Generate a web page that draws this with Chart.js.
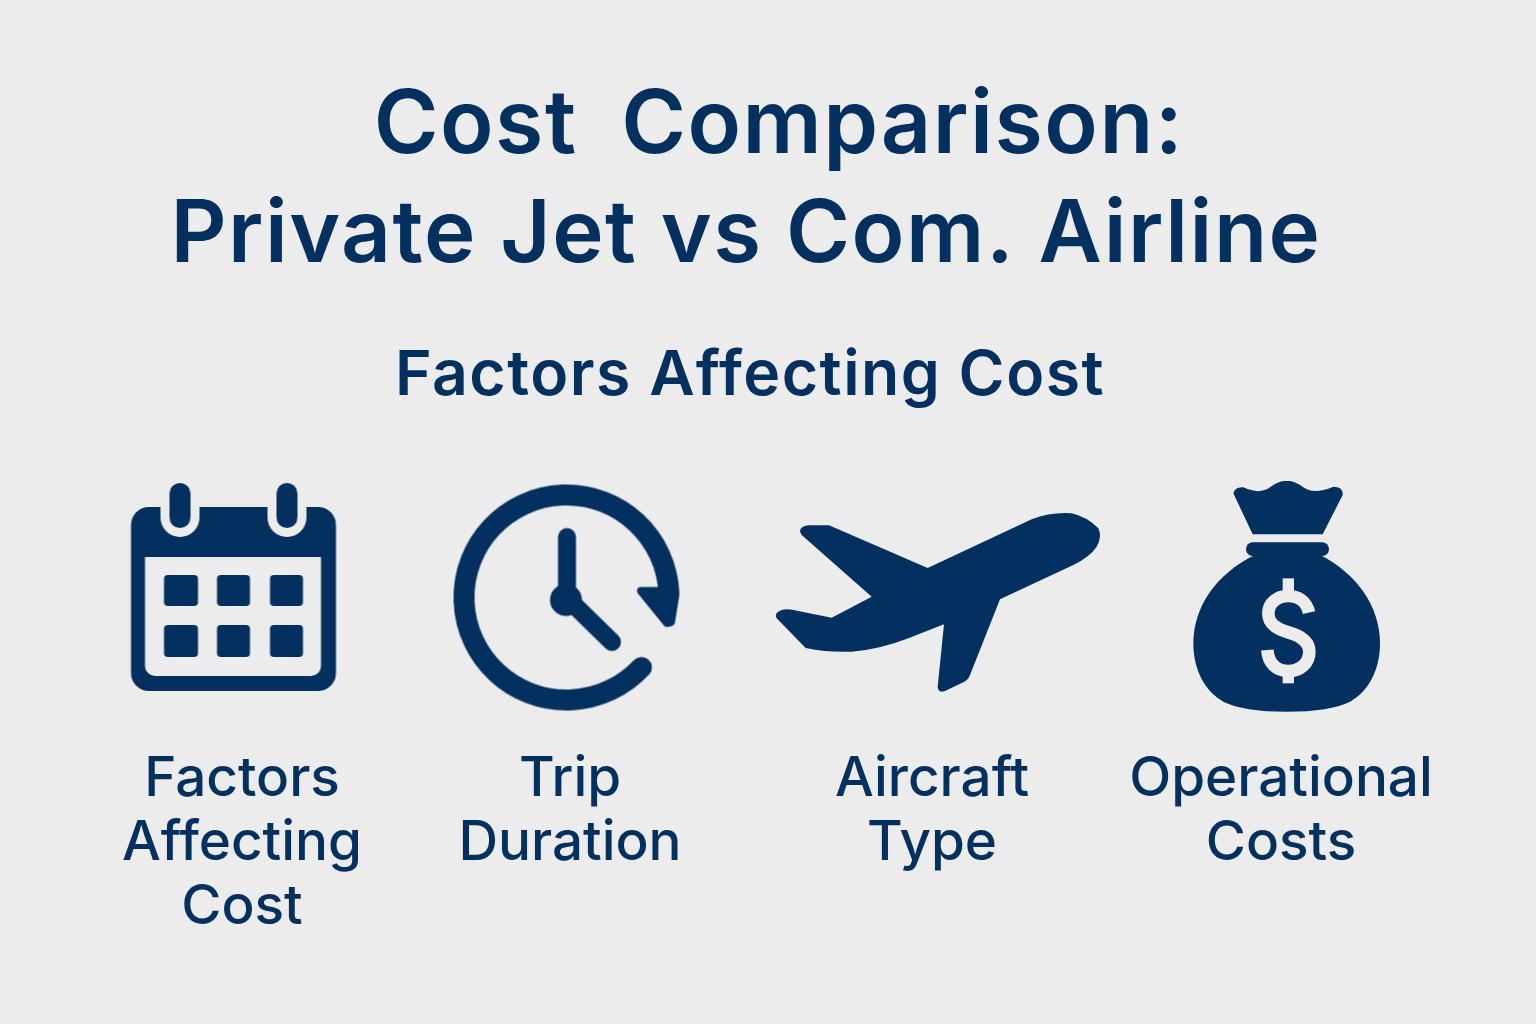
<!DOCTYPE html>
<html>
<head>
<meta charset="utf-8">
<title>Cost Comparison</title>
<script src="https://cdn.jsdelivr.net/npm/chart.js@4"></script>
<style>
  html, body { margin: 0; padding: 0; background: #ececec; }
  canvas { display: block; }
</style>
</head>
<body>
<canvas id="costChart" width="1536" height="1024"></canvas>
<script>
// chart content
const categories = ['Factors Affecting Cost', 'Trip Duration', 'Aircraft Type', 'Operational Costs'];
const tickLabels = [['Factors', 'Affecting', 'Cost'], ['Trip', 'Duration'], ['Aircraft', 'Type'], ['Operational', 'Costs']];
const titleLines = ['Cost Comparison:', 'Private Jet vs Com. Airline'];
const subtitleText = 'Factors Affecting Cost';

const NAVY = '#03305f';
const BG = '#ececec';
const FONT = 'Inter, "Noto Sans", sans-serif';

// layout, in page pixels
const labelCentres = [242, 570, 932, 1281];
const iconCentres = [[233.5, 587], [566.5, 597.5], [938, 605], [1287, 601]];
const iconBoxes = [[224, 220], [240, 240], [340, 200], [200, 240]];

function rrect(c, x0, y0, x1, y1, r) {
  c.beginPath();
  c.roundRect(x0, y0, x1 - x0, y1 - y0, r);
}

function drawCalendar(c) {
  c.fillStyle = NAVY;
  rrect(c, 131, 507, 336, 691, 18);
  c.fill();
  c.fillStyle = BG;
  rrect(c, 145, 557, 321, 676, [0, 0, 10, 10]);
  c.fill();
  [180, 287].forEach((x) => {
    c.fillStyle = BG;
    rrect(c, x - 19.5, 495, x + 19.5, 537, [0, 0, 19.5, 19.5]);
    c.fill();
    c.fillStyle = NAVY;
    rrect(c, x - 10.5, 483, x + 10.5, 528, 10.5);
    c.fill();
  });
  [[164, 198], [217, 250], [270, 303]].forEach((xs) => {
    [[575, 606], [625, 657]].forEach((ys) => {
      rrect(c, xs[0], ys[0], xs[1], ys[1], 4);
      c.fill();
    });
  });
}

function drawClock(c) {
  const cx = 566.5, cy = 597.5;
  c.strokeStyle = NAVY;
  c.fillStyle = NAVY;
  c.lineCap = 'round';
  c.lineWidth = 21;
  c.beginPath();
  c.arc(cx, cy, 102.5, 43 * Math.PI / 180, -2 * Math.PI / 180);
  c.stroke();
  // arrow head at the end of the ring
  c.lineJoin = 'round';
  c.lineWidth = 8;
  c.beginPath();
  c.moveTo(660, 591);
  c.lineTo(641, 591);
  c.lineTo(667, 623);
  c.lineTo(671, 622);
  c.lineTo(675, 597);
  c.closePath();
  c.fill();
  c.stroke();
  c.lineWidth = 18;
  c.beginPath();
  c.moveTo(567, 537);
  c.lineTo(567, 598);
  c.lineTo(612, 642);
  c.stroke();
  c.beginPath();
  c.arc(566, 600, 16, 0, Math.PI * 2);
  c.fill();
}

function drawPlane(c) {
  c.save();
  c.translate(765, 500);
  c.scale(1 / 3, 1 / 3);
  c.fillStyle = NAVY;
  c.beginPath();
  c.moveTo(105, 95);
  c.quadraticCurveTo(105, 78, 130, 76);
  c.lineTo(192, 76);
  c.lineTo(488, 204);
  c.lineTo(800, 58);
  c.quadraticCurveTo(860, 35, 920, 40);
  c.quadraticCurveTo(965, 50, 1000, 85);
  c.quadraticCurveTo(1012, 110, 995, 140);
  c.quadraticCurveTo(975, 170, 925, 195);
  c.lineTo(705, 298);
  c.lineTo(615, 525);
  c.quadraticCurveTo(610, 540, 595, 547);
  c.lineTo(540, 573);
  c.quadraticCurveTo(520, 580, 518, 560);
  c.lineTo(537, 373);
  c.lineTo(430, 415);
  c.quadraticCurveTo(340, 450, 260, 455);
  c.quadraticCurveTo(190, 458, 122, 444);
  c.lineTo(35, 355);
  c.quadraticCurveTo(25, 340, 50, 330);
  c.quadraticCurveTo(65, 325, 85, 330);
  c.lineTo(200, 353);
  c.lineTo(320, 290);
  c.lineTo(110, 105);
  c.closePath();
  c.fill();
  c.restore();
}

function drawBag(c) {
  c.save();
  c.translate(1180, 470);
  c.scale(1 / 3, 1 / 3);
  c.fillStyle = NAVY;
  c.beginPath();
  c.moveTo(160, 70);
  c.quadraticCurveTo(165, 50, 190, 52);
  c.quadraticCurveTo(240, 75, 270, 52);
  c.quadraticCurveTo(300, 30, 320, 33);
  c.quadraticCurveTo(340, 30, 370, 52);
  c.quadraticCurveTo(400, 75, 460, 50);
  c.quadraticCurveTo(490, 50, 488, 75);
  c.lineTo(428, 193);
  c.lineTo(218, 193);
  c.closePath();
  c.fill();
  rrect(c, 198, 217, 447, 258, 20);
  c.fill();
  c.beginPath();
  c.moveTo(225, 255);
  c.bezierCurveTo(110, 310, 40, 410, 40, 520);
  c.bezierCurveTo(40, 600, 75, 665, 130, 695);
  c.quadraticCurveTo(190, 725, 320, 725);
  c.quadraticCurveTo(450, 725, 510, 695);
  c.bezierCurveTo(565, 665, 600, 600, 600, 520);
  c.bezierCurveTo(600, 410, 530, 310, 420, 255);
  c.closePath();
  c.fill();
  // dollar sign
  c.strokeStyle = BG;
  c.fillStyle = BG;
  c.lineWidth = 38;
  c.beginPath();
  c.moveTo(387, 428);
  c.bezierCurveTo(380, 395, 355, 378, 325, 378);
  c.bezierCurveTo(290, 378, 265, 400, 265, 430);
  c.bezierCurveTo(265, 465, 295, 478, 325, 487);
  c.bezierCurveTo(360, 497, 388, 512, 388, 545);
  c.bezierCurveTo(388, 580, 360, 603, 325, 603);
  c.bezierCurveTo(290, 603, 265, 580, 262, 540);
  c.stroke();
  c.fillRect(308, 325, 34, 60);
  c.fillRect(308, 595, 34, 45);
  c.restore();
}

const iconPainters = [drawCalendar, drawClock, drawPlane, drawBag];

// each icon goes on its own small canvas and is used as the point style
function makeIcon(i) {
  const cv = document.createElement('canvas');
  cv.width = iconBoxes[i][0];
  cv.height = iconBoxes[i][1];
  const c = cv.getContext('2d');
  c.translate(cv.width / 2 - iconCentres[i][0], cv.height / 2 - iconCentres[i][1]);
  iconPainters[i](c);
  return cv;
}

// headings sit on different centres, so the title plugin can't do them
const headingPlugin = {
  id: 'headings',
  afterDraw(chart) {
    const c = chart.ctx;
    c.save();
    c.fillStyle = NAVY;
    c.textAlign = 'center';
    c.textBaseline = 'alphabetic';
    c.font = '600 88px ' + FONT;
    c.letterSpacing = '1.5px';
    c.wordSpacing = '20px';
    c.fillText(titleLines[0], 779, 153);
    c.font = '600 87px ' + FONT;
    c.letterSpacing = '1.5px';
    c.wordSpacing = '0px';
    c.fillText(titleLines[1], 746, 262);
    c.font = '600 62.5px ' + FONT;
    c.letterSpacing = '1.5px';
    c.fillText(subtitleText, 750, 395);
    c.restore();
  },
};

new Chart(document.getElementById('costChart'), {
  type: 'scatter',
  data: {
    labels: categories,
    datasets: [{
      label: 'Factors',
      data: iconCentres.map((p) => ({ x: p[0], y: p[1] })),
      pointStyle: iconCentres.map((p, i) => makeIcon(i)),
    }],
  },
  options: {
    responsive: false,
    animation: false,
    layout: { padding: 0, autoPadding: false },
    plugins: { legend: { display: false }, tooltip: { enabled: false } },
    scales: {
      x: {
        type: 'linear',
        min: 0,
        max: 1536,
        grid: { display: false },
        border: { display: false },
        afterBuildTicks: (scale) => { scale.ticks = labelCentres.map((v) => ({ value: v })); },
        afterFit: (scale) => { scale.height = 284; },
        ticks: {
          autoSkip: false,
          maxRotation: 0,
          color: NAVY,
          padding: 0,
          font: { family: FONT, size: 54.8, weight: '500', lineHeight: 64 / 54.8 },
          callback: (value, index) => tickLabels[index],
        },
      },
      y: {
        display: false,
        reverse: true,
        min: 0,
        max: 740,
      },
    },
  },
  plugins: [headingPlugin],
});
</script>
</body>
</html>
